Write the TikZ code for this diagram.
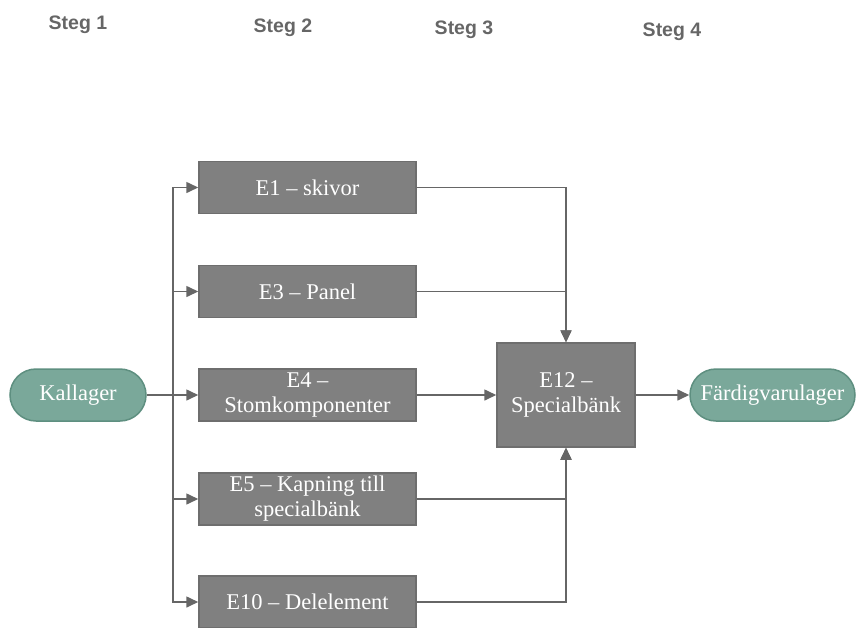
\documentclass[tikz,border=0pt]{standalone}
\usepackage{fontspec}
\setmainfont{Liberation Serif}
\newfontfamily\headfont{Liberation Sans}
\usetikzlibrary{arrows.meta,shapes.misc}
\definecolor{boxgray}{HTML}{808080}
\definecolor{boxedge}{HTML}{6E6E6E}
\definecolor{stgreen}{HTML}{7AA89A}
\definecolor{stedge}{HTML}{5E8F80}
\definecolor{linegray}{HTML}{666666}
\definecolor{headgray}{HTML}{666666}
\begin{document}
\begin{tikzpicture}[x=1pt,y=-1pt,
  procbox/.style={rectangle,draw=boxedge,line width=1.5pt,fill=boxgray,text=white,
    minimum width=217pt,minimum height=52pt,inner sep=1pt,align=center,
    font=\fontsize{22.5}{25}\selectfont},
  storebox/.style={rounded rectangle,draw=stedge,line width=1.5pt,fill=stgreen,text=white,
    minimum height=52pt,inner sep=2pt,align=center,
    font=\fontsize{22.5}{25}\selectfont},
  conn/.style={draw=linegray,line width=1.6pt,-{Triangle[length=12pt,width=11pt]}},
  head/.style={font=\headfont\bfseries\fontsize{19.5}{21}\selectfont,text=headgray}]
\useasboundingbox (0,0) rectangle (860,627);
\node[head] (s1) at (78,25) {Steg 1};
\node[head] (s2) at (283,28) {Steg 2};
\node[head] (s3) at (464,30) {Steg 3};
\node[head] (s4) at (672,32) {Steg 4};

\node[storebox,minimum width=140pt] (kal) at (78,395) {Kallager};
\node[storebox,minimum width=169pt] (fvl) at (772.5,395) {Färdigvarulager};

\node[procbox] (e1) at (307.5,187.5) {E1 – skivor};
\node[procbox] (e3) at (307.5,291.5) {E3 – Panel};
\node[procbox] (e4) at (307.5,395) {E4 –\\Stomkomponenter};
\node[procbox] (e5) at (307.5,499) {E5 – Kapning till\\specialbänk};
\node[procbox] (e10) at (307.5,602) {E10 – Delelement};
\node[procbox,minimum width=138pt,minimum height=104pt] (e12) at (566,395) {E12 –\\Specialbänk};

\coordinate (split) at (173,395);
\draw[draw=linegray,line width=1.6pt] (kal.east) -- (split);
\draw[conn] (split) -- (e4.west);
\draw[conn] (split) |- (e1.west);
\draw[conn] (split) |- (e3.west);
\draw[conn] (split) |- (e5.west);
\draw[conn] (split) |- (e10.west);

\draw[conn] (e1.east) -| (e12.north);
\draw[conn] (e3.east) -| (e12.north);
\draw[conn] (e4.east) -- (e12.west);
\draw[conn] (e5.east) -| (e12.south);
\draw[conn] (e10.east) -| (e12.south);
\draw[conn] (e12.east) -- (fvl.west);
\end{tikzpicture}
\end{document}
